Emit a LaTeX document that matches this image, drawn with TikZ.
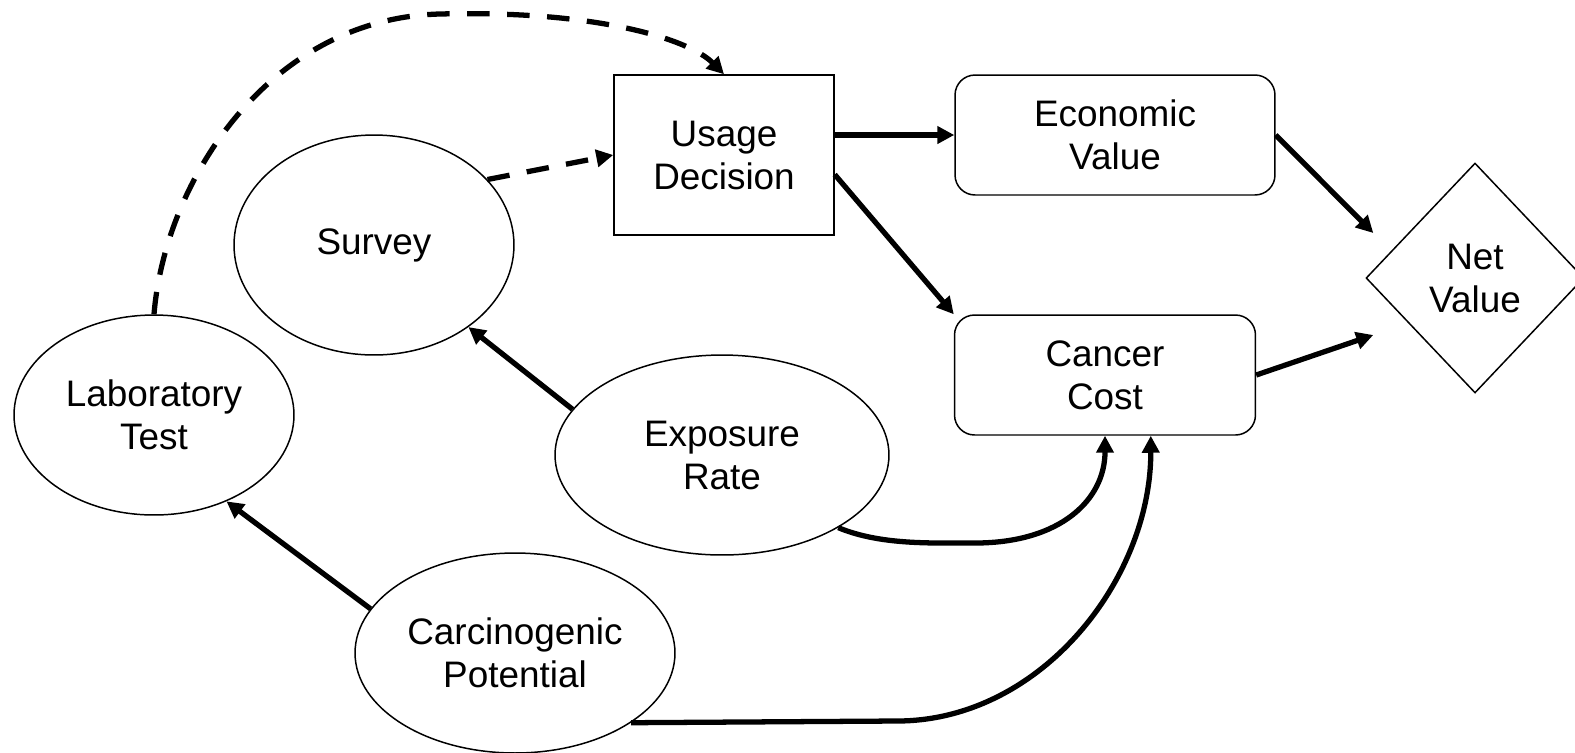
\documentclass[tikz,border=0pt]{standalone}
\usepackage{fontspec}
\setmainfont{Liberation Sans}
\usetikzlibrary{shapes.geometric,arrows.meta}

\begin{document}
\begin{tikzpicture}[x=0.02cm,y=-0.02cm,
		chance/.style={ellipse,draw,line width=0.85pt,align=center,inner sep=0pt},
		decide/.style={rectangle,draw,line width=0.85pt,align=center,minimum width=4.4cm,minimum height=3.2cm},
		valbox/.style={rectangle,rounded corners=0.4cm,draw,line width=0.85pt,align=center,minimum height=2.4cm},
		arr/.style={line width=3pt,-{Triangle[length=0.34cm,width=0.34cm]}},
		darr/.style={arr,dash pattern=on 0.45cm off 0.35cm}]
			\useasboundingbox (0,0) rectangle (1575,752);
			\fontsize{21}{24.5}\selectfont
			
			%chance nodes
			\node[chance,minimum width=5.6cm,minimum height=4.0cm] (lab) at (154,415){Laboratory\\Test};
			\node[chance,minimum width=5.6cm,minimum height=4.4cm] (survey) at (374,245){Survey};
			\node[chance,minimum width=6.68cm,minimum height=4.0cm] (expo) at (722,455){Exposure\\Rate};
			\node[chance,minimum width=6.4cm,minimum height=4.0cm] (carc) at (515,653){Carcinogenic\\Potential};
			
			%decision and values
			\node[decide] (usage) at (724,155){Usage\\Decision};
			\node[valbox,minimum width=6.4cm] (econ) at (1115,135){Economic\\Value};
			\node[valbox,minimum width=6.02cm] (cancer) at (1105,375){Cancer\\Cost};
			\node[diamond,draw,line width=0.85pt,align=center,inner sep=0pt,minimum width=4.36cm,minimum height=4.6cm] (net) at (1475,278){Net\\Value};
			\coordinate (netin1) at ([shift={(8,-45)}]net.west);
			\coordinate (netin2) at ([shift={(8,57)}]net.west);
			
			%information arcs
			\draw[darr] (lab.north) .. controls (165,180) and (270,18) .. (440,14) .. controls (600,10) and (690,40) .. (usage.north);
			\draw[darr] (survey.30) -- (usage.west);
			
			\draw[arr] (expo.163) -- (survey.319);
			\draw[arr] (carc.163) -- (lab.310);
			\draw[arr] (usage.east |- econ) -- (econ);
			\draw[arr] (usage.-10) -- (cancer.north west);
			\draw[arr] (econ.east) -- (netin1);
			\draw[arr] (cancer.east) -- (netin2);
			\draw[arr] (expo.328) .. controls (880,545) and (930,543) .. (975,543) .. controls (1060,543) and (1105,500) .. (cancer.south);
			\draw[arr] (carc.329) -- (897,721) .. controls (1040,721) and (1151,580) .. (cancer.307);
		\end{tikzpicture}
\end{document}
